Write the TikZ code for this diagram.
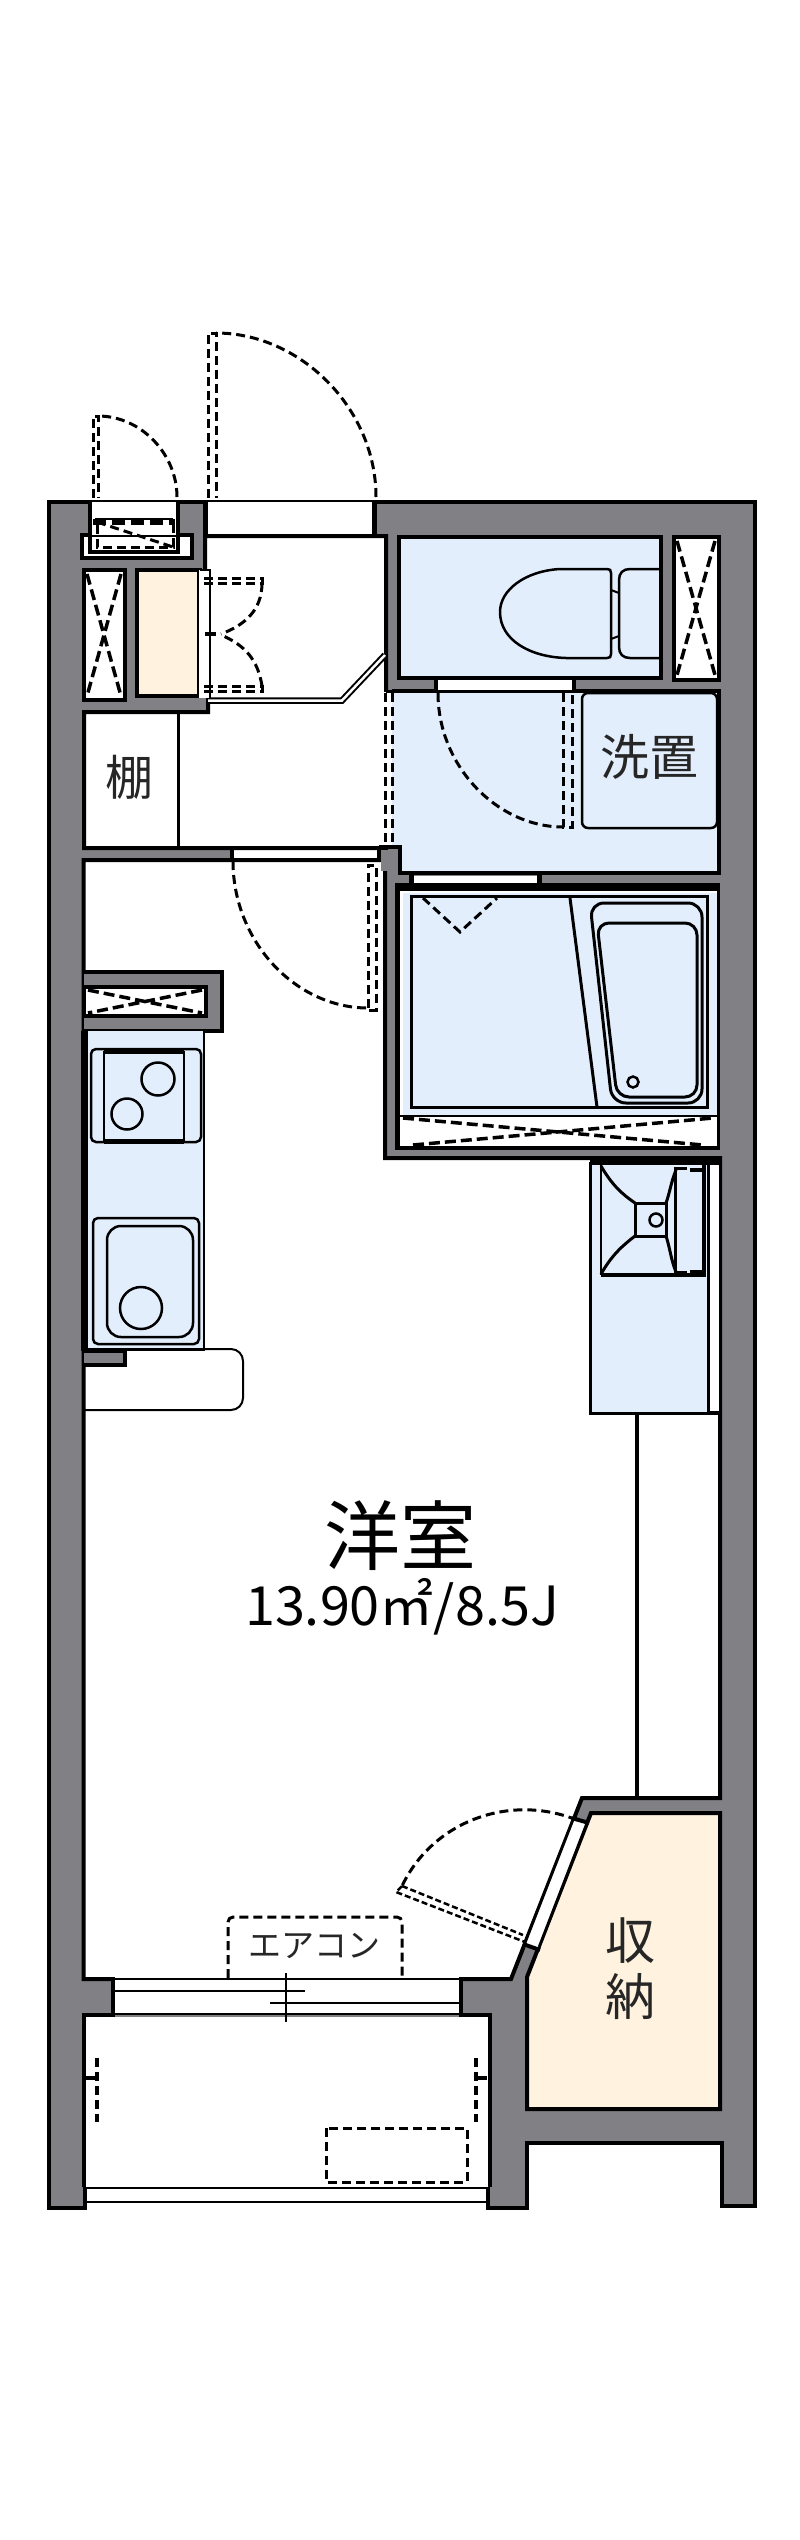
\documentclass[tikz,border=0pt]{standalone}
\usepackage{fontspec}
\setmainfont{Noto Sans CJK JP}
\definecolor{wallc}{HTML}{808085}
\definecolor{wet}{HTML}{E3EEFD}
\definecolor{cream}{HTML}{FFF3E0}
\tikzset{
 wallline/.style={draw=black,line width=4pt,line join=miter},
 thinl/.style={draw=black,line width=2.5pt},
 dsh/.style={draw=black,line width=3pt,dash pattern=on 9pt off 5pt},
 xdsh/.style={draw=black,line width=3.5pt,dash pattern=on 11pt off 5pt},
 lab/.style={inner sep=0pt,text=black!85},
}
\begin{document}
\begin{tikzpicture}[x=1pt,y=-1pt]
\useasboundingbox (0,0) rectangle (800,2540);
\fill[white] (0,0) rectangle (800,2540);
% silhouette
\path[fill=wallc,wallline] (49,502)--(755,502)--(755,2206)--(722,2206)--(722,2143)--(527,2143)--(527,2208)--(488,2208)--(488,2187)--(85,2187)--(85,2208)--(49,2208)--cycle;
% main room
\path[fill=white,wallline] (83.5,860)--(385,860)--(385,1158)--(720,1158)--(720,1798)--(582,1798)--(511,1979)--(83.5,1979)--cycle;
% protrusions
\path[fill=wallc,wallline] (84,972)--(222,972)--(222,1031)--(84,1031);
\path[fill=white,wallline] (84,987)--(206,987)--(206,1016)--(84,1016)--cycle;
\path[fill=wallc,wallline] (84,1351)--(125,1351)--(125,1365)--(84,1365);
% hall opening to room
\fill[white] (234,849) rectangle (377,858);
\draw[line width=3.5pt] (232,847)--(232,860) (379,847)--(379,860);
% balcony
\path[fill=white,wallline] (84,2187)--(84,2015)--(113,2015) (461,2015)--(490,2015)--(490,2187);
\fill[white] (84,2017) rectangle (490,2187);
\draw[line width=4pt] (490,2187)--(490,2015);
\draw[line width=4pt] (84,2187)--(84,2015);
\draw[line width=2.5pt] (85,2202)--(488,2202);
\draw[dsh,line width=3.5pt] (97,2058)--(97,2122) (476,2058)--(476,2122);
\draw[line width=4pt] (86,2078)--(99,2078) (475,2078)--(487,2078);
\draw[dsh] (326,2128) rectangle (467,2182);
% window
\fill[white] (113,1977) rectangle (461,2015);
\draw[line width=2.5pt] (113,1979)--(461,1979) (113,2014)--(461,2014);
\draw[line width=2pt] (113,1991)--(305,1991) (270,2003)--(461,2003) (286,1973)--(286,2022);
\draw[line width=4pt] (113,1977)--(113,2017) (461,1977)--(461,2017);
% closet
\path[fill=cream,wallline] (591,1813)--(720,1813)--(720,2109)--(527,2109)--(527,1977)--cycle;
\fill[white] (573,1820)--(588,1820)--(539,1947)--(523.5,1947)--cycle;
\draw[line width=2.5pt] (573,1820)--(523.5,1947) (588,1820)--(539,1947);
\draw[line width=4pt] (572,1818)--(589,1823) (523,1944)--(540,1950);
\draw[dsh] (577,1820) .. controls (510,1793) and (433,1821) .. (402,1886);
\draw[line width=2.5pt,dash pattern=on 6pt off 3pt] (402,1886)--(396,1892)--(525,1942) (402,1886)--(523,1935);
% A/C
\draw[dsh,rounded corners=5pt] (228,1978)--(228,1917)--(402,1917)--(402,1978);
% hall
\path[fill=white,wallline] (205,536)--(386,536)--(386,848)--(84,848)--(84,712)--(208,712)--(208,698)--(205,568)--cycle;
\draw[line width=3pt] (178,712)--(178,846);
\draw[line width=6.5pt] (208,700.5)--(342,700.5)--(385,655);
\draw[white,line width=2.5pt] (208,700.5)--(342,700.5)--(385,655);
% entry opening
\fill[white] (207,498) rectangle (373,534);
\draw[line width=2pt] (207,501)--(373,501);
\draw[line width=5pt] (205.5,500)--(205.5,536) (374.5,500)--(374.5,536);
% entry doors
\draw[dsh] (376,497) .. controls (376,408) and (300,333) .. (216,333);
\draw[dsh] (208,498)--(208,333)--(216,333)--(216,498);
% meter niche
\path[fill=white,wallline] (82,535) rectangle (192,558);
\fill[white] (90,500) rectangle (177,535);
\draw[line width=2pt] (90,501)--(177,501);
\draw[line width=4pt] (90,500)--(90,552)--(178,552)--(178,500);
\draw[line width=2pt] (95,519)--(173,519);
\draw[line width=6pt,dash pattern=on 13pt off 6pt] (93,522)--(175,522);
\draw[dsh] (97,525)--(97,547)--(173,547)--(173,525);
\draw[dsh] (97,522)--(173,547);
\draw[dsh] (177,497) .. controls (177,454) and (141,416) .. (98,416);
\draw[dsh] (93,498)--(93,416)--(98,416)--(98,498);
% PS left
\path[fill=white,wallline] (84,570) rectangle (125,700);
\draw[xdsh] (87,574)--(121,696) (121,574)--(87,696);
% cream cupboard
\fill[black] (135,568) rectangle (202,698);
\fill[cream] (139,572) rectangle (197,694);
\fill[white] (199,570) rectangle (210,698);
\draw[line width=2pt] (200,570)--(210,570)--(210,698);
\draw[dsh] (204,578)--(262,578)--(262,583)--(204,583);
\draw[dsh] (204,686)--(262,686)--(262,691)--(204,691);
\draw[line width=4pt] (205,634)--(216,634);
\draw[dsh] (262,583) .. controls (262,610) and (245,625) .. (221,634);
\draw[dsh] (262,686) .. controls (258,660) and (245,645) .. (221,635);
% washroom
\fill[white] (384,692) rectangle (392,847);
\path[fill=wet,wallline] (392,847)--(400,847)--(400,873)--(718.5,873)--(718.5,691)--(392,691);
\draw[dsh] (385.5,693)--(385.5,846) (392.5,693)--(392.5,846);
\draw[line width=3pt] (386,691)--(392,691);
% step
\fill[wallc] (381,850) rectangle (398,871);
\draw[line width=4pt] (379,847)--(400,847);
% toilet room
\path[fill=wet,wallline] (399,536.5) rectangle (660.5,677.5);
\fill[white] (438,680) rectangle (572,690);
\draw[line width=4pt] (436,678)--(436,692) (574,678)--(574,692);
\draw[dsh] (438,693) .. controls (438,767) and (498,827) .. (563,827);
\draw[dsh] (563,693)--(563,827)--(572,827)--(572,693);
\path[fill=wet,thinl,rounded corners=6pt] (582,693) rectangle (717,828);
\draw[line width=4pt] (584,691)--(718,691);
\path[thinl,fill=wet] (607,569)--(560,569) .. controls (525,571) and (500,590) .. (500,612) .. controls (500,640) and (530,657) .. (566,658)--(607,658) .. controls (610,658) and (611,657) .. (611,654)--(611,573) .. controls (611,570) and (610,569) .. (607,569)--cycle;
\path[thinl] (659,569)--(630,569) .. controls (623,569) and (619,573) .. (619,580)--(619,647) .. controls (619,654) and (623,658) .. (630,658)--(659,658);
\draw[line width=2pt] (611,590)--(619,593) (611,639)--(619,636);
% PS right
\path[fill=white,wallline] (674,537) rectangle (719,680);
\draw[xdsh] (677,541)--(715,675) (715,541)--(677,675);
% bath door opening
\fill[white] (413,875.5) rectangle (537,883);
\draw[line width=5pt] (411,873)--(411,885) (539,873)--(539,885);
% bathroom
\fill[black] (395,883) rectangle (720,1150);
\fill[white] (400,891) rectangle (717,1117.5);
\fill[wet] (403,893) rectangle (717,1115);
\fill[black] (400,1115) rectangle (717,1117);
\fill[white] (400,1117) rectangle (717,1146);
\path[fill=wet,draw=black,line width=3pt] (411,896) rectangle (707,1107);
\draw[dsh] (423,898)--(460,932)--(497,898);
\draw[line width=3pt] (570,898)--(597,1107);
\draw[line width=3pt,rounded corners=14pt] (590,903)--(702,903)--(702,1103)--(612,1103)--cycle;
\draw[line width=3pt,rounded corners=12pt] (597,923)--(697,923)--(697,1097)--(617,1097)--cycle;
\draw[line width=2.5pt] (633,1082) circle[radius=5.5pt];
\draw[xdsh] (403,1118)--(703,1145) (413,1145)--(713,1118);
% hall door
\draw[dsh] (233,861) .. controls (233,942) and (296,1008) .. (368,1008);
\draw[dsh] (368,1008)--(368,865)--(376,865)--(376,1010)--(368,1010);
% kitchenette unit
\path[fill=wet,draw=black,line width=3pt] (590.5,1163) rectangle (708.5,1413);
\fill[white] (710,1163) rectangle (719,1412);
\fill[black] (590,1158) rectangle (720,1165);
\draw[line width=4pt] (710,1413)--(720,1413);
\draw[line width=3.5pt] (637,1413)--(637,1797);
\draw[line width=2.5pt] (601,1165)--(601,1275);
\draw[line width=4pt] (601,1275)--(704,1275)--(704,1165);
\draw[line width=3pt] (635,1203) rectangle (666,1236);
\draw[line width=2.5pt] (656,1220) circle[radius=6.5pt];
\draw[line width=3pt] (601,1166) .. controls (612,1185) and (622,1194) .. (635,1203);
\draw[line width=3pt] (601,1274) .. controls (612,1255) and (622,1246) .. (635,1236);
\draw[line width=3pt] (676,1170) .. controls (671,1182) and (670,1192) .. (666,1203);
\draw[line width=3pt] (676,1272) .. controls (671,1260) and (670,1248) .. (666,1236);
\draw[line width=3pt] (687,1168)--(675,1168)--(675,1272)--(687,1272);
\draw[line width=4pt] (690,1170)--(703,1170) (690,1272)--(703,1272);
% ps horizontal dash
\draw[xdsh] (88,990)--(202,1013) (202,990)--(88,1013);
% counter
\path[fill=wet,thinl] (204,1031)--(204,1350)--(87,1350)--(87,1031);
\fill[black] (81,1031) rectangle (87,1351);
\path[fill=wet,thinl,rounded corners=5pt] (91,1049) rectangle (201,1142);
\path[fill=wet,draw=black,line width=2.5pt] (104,1052) rectangle (184,1141);
\draw[line width=5pt] (104,1051.5)--(184,1051.5) (104,1141)--(184,1141);
\draw[line width=2.5pt] (158,1079) circle[radius=16.5pt];
\draw[line width=2.5pt] (127,1114) circle[radius=15.5pt];
\path[thinl,rounded corners=5pt] (93,1218) rectangle (199,1344);
\path[thinl,rounded corners=14pt] (107,1226) rectangle (193,1337);
\draw[line width=2.5pt] (141,1308) circle[radius=21pt];
% fridge space
\draw[line width=2pt,rounded corners=12pt] (84,1349)--(243,1349)--(243,1410)--(84,1410);
% labels
\node[lab,font=\fontsize{48}{50}\selectfont] (shelf) at (129,777) {棚};
\node[lab,font=\fontsize{49}{50}\selectfont] (laundry) at (649,757) {洗置};
\node[lab,text=black,font=\fontsize{76}{80}\selectfont] (room) at (400,1536) {洋室};
\node[lab,text=black,font=\fontsize{54}{56}\selectfont] (area) at (402,1607) {13.90㎡/8.5J};
\node[lab,font=\fontsize{33}{36}\selectfont] (ac) at (314,1946) {エアコン};
\node[lab,font=\fontsize{50}{52}\selectfont] (st1) at (630,1941) {収};
\node[lab,font=\fontsize{50}{52}\selectfont] (st2) at (630,1996) {納};
\end{tikzpicture}
\end{document}
